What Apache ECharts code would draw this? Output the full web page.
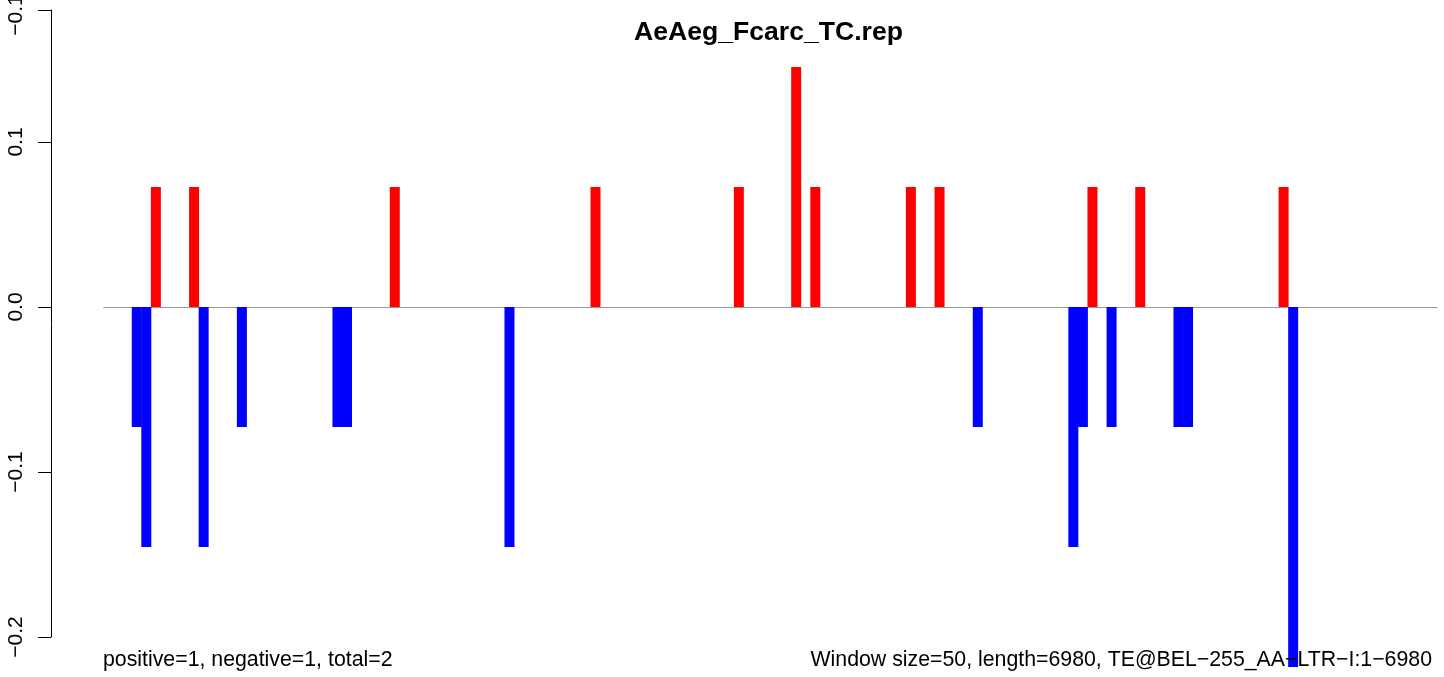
<!DOCTYPE html>
<html>
<head>
<meta charset="utf-8">
<script src="https://cdn.jsdelivr.net/npm/echarts@6/dist/echarts.min.js"></script>
<style>
html,body{margin:0;padding:0;background:#fff;}
#chart{width:1444px;height:677px;}
</style>
</head>
<body>
<div id="chart"></div>
<script>
// ---- data ----
const TITLE = 'AeAeg_Fcarc_TC.rep';
const WINDOW_SIZE = 50;
const SEQ_LENGTH = 6980;
const WINDOW_COUNT = 140;
const FOOTER_LEFT = 'positive=1, negative=1, total=2';
const FOOTER_RIGHT = 'Window size=50, length=6980, TE@BEL\u2212255_AA\u2212LTR\u2212I:1\u22126980';

// window index -> value
const POS_WINDOWS = [5, 9, 30, 51, 66, 72, 74, 84, 87, 103, 108, 123];
const POS_VALUES  = [0.0727, 0.0727, 0.0727, 0.0727, 0.0727, 0.1455, 0.0727, 0.0727, 0.0727, 0.0727, 0.0727, 0.0727];
const NEG_WINDOWS = [3, 4, 10, 14, 24, 25, 42, 91, 101, 102, 105, 112, 113, 124];
const NEG_VALUES  = [-0.0727, -0.1455, -0.1455, -0.0727, -0.0727, -0.0727, -0.1455, -0.0727, -0.1455, -0.0727, -0.0727, -0.0727, -0.0727, -0.2182];

const TICK_VALUES = [-0.2, -0.1, 0, 0.1, 0.18];
const TICK_LABELS = ['\u22120.2', '\u22120.1', '0.0', '0.1', '\u22120.1'];

// ---- build ----
const FONT = "'Liberation Sans', Arial, Helvetica, sans-serif";
const posData = POS_WINDOWS.map((k, i) => [k * WINDOW_SIZE + WINDOW_SIZE / 2, POS_VALUES[i]]);
const negData = NEG_WINDOWS.map((k, i) => [k * WINDOW_SIZE + WINDOW_SIZE / 2, NEG_VALUES[i]]);

const chart = echarts.init(document.getElementById('chart'), null, {renderer: 'canvas'});
chart.setOption({
  backgroundColor: '#ffffff',
  animation: false,
  grid: [
    {left: 103.3, right: 2.7, top: 10, bottom: 7, outerBoundsMode: 'none', containLabel: false},
    {left: 51, right: 2.7, top: 10, bottom: 40, outerBoundsMode: 'none', containLabel: false}
  ],
  xAxis: [
    {type: 'value', gridIndex: 0, min: 0, max: WINDOW_COUNT * WINDOW_SIZE, show: false},
    {type: 'value', gridIndex: 1, min: 0, max: 1, show: false}
  ],
  yAxis: [
    {type: 'value', gridIndex: 0, min: -0.22, max: 0.18, show: false},
    {
      type: 'value', gridIndex: 1, min: -0.2, max: 0.18, position: 'left',
      axisLine: {show: true, onZero: false, lineStyle: {color: '#000', width: 1}},
      axisTick: {show: true, length: 13, lineStyle: {color: '#000', width: 1}, customValues: TICK_VALUES},
      splitLine: {show: false},
      axisLabel: {
        show: true, rotate: 90, margin: 24, color: '#000', fontSize: 21, fontFamily: FONT,
        customValues: TICK_VALUES,
        formatter: function (v) {
          let best = 0, bd = Infinity;
          TICK_VALUES.forEach((t, i) => { const d = Math.abs(t - v); if (d < bd) { bd = d; best = i; } });
          return best === TICK_VALUES.length - 1 ? '{top|' + TICK_LABELS[best] + '}' : TICK_LABELS[best];
        },
        rich: {
          top: {fontSize: 21, fontFamily: FONT, color: '#000', padding: [0, 10, 0, 0]}
        }
      }
    }
  ],
  series: [
    {
      name: 'positive', type: 'bar', xAxisIndex: 0, yAxisIndex: 0,
      data: posData, barWidth: 10, barGap: '-100%',
      itemStyle: {color: '#ff0000'},
      markLine: {
        silent: true, symbol: ['none', 'none'], z: 1,
        label: {show: false},
        lineStyle: {color: '#999999', width: 1, type: 'solid'},
        data: [[{coord: [0, 0]}, {coord: [SEQ_LENGTH, 0]}]]
      }
    },
    {
      name: 'negative', type: 'bar', xAxisIndex: 0, yAxisIndex: 0,
      data: negData, barWidth: 10, barGap: '-100%',
      itemStyle: {color: '#0000ff'}
    }
  ],
  graphic: [
    {type: 'text', x: 768.5, y: 33, z: 10, style: {text: TITLE, font: "bold 26.6px " + FONT, fill: '#000', align: 'center', verticalAlign: 'middle'}},
    {type: 'text', x: 103, y: 660, z: 10, style: {text: FOOTER_LEFT, font: "21.3px " + FONT, fill: '#000', align: 'left', verticalAlign: 'middle'}},
    {type: 'text', x: 1432, y: 660, z: 10, style: {text: FOOTER_RIGHT, font: "21.3px " + FONT, fill: '#000', align: 'right', verticalAlign: 'middle'}}
  ]
});
</script>
</body>
</html>
